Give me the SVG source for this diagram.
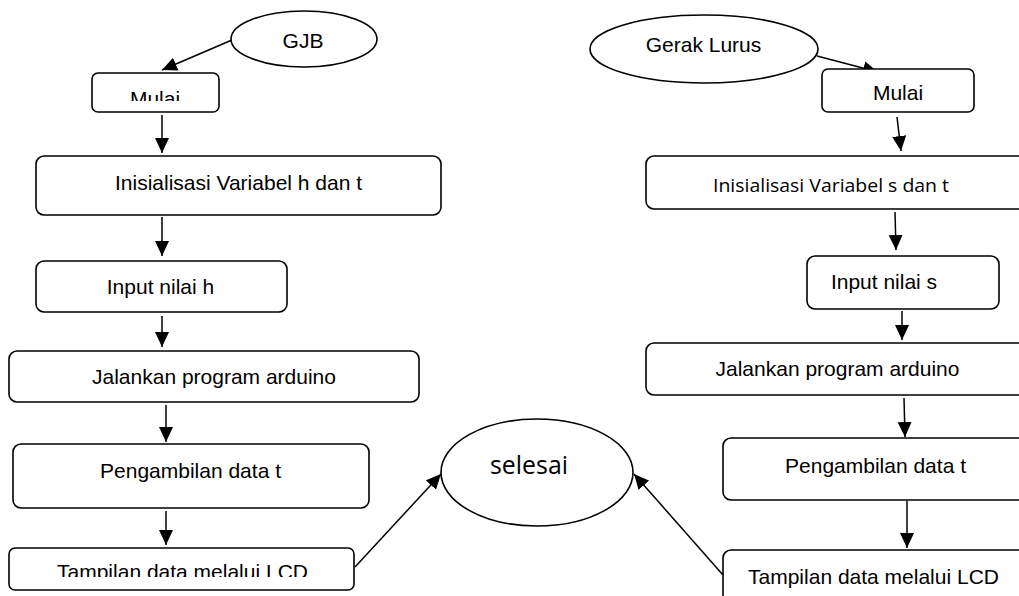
<svg xmlns="http://www.w3.org/2000/svg" width="1019" height="596" viewBox="0 0 1019 596">
<style>
.box{fill:#fff;stroke:#000;stroke-width:1.6}
.ell{fill:#fff;stroke:#000;stroke-width:1.6}
.t{font-family:"Liberation Sans",Arial,sans-serif;font-size:21px;fill:#000;text-anchor:middle}
.c{font-family:"Open Sans","Noto Sans",sans-serif;fill:#000;text-anchor:middle}
.ln{stroke:#000;stroke-width:1.5;fill:none;marker-end:url(#ah)}
</style>
<defs>
<marker id="ah" markerUnits="userSpaceOnUse" markerWidth="16" markerHeight="15" refX="15" refY="7" orient="auto">
<path d="M0,0 L15,7 L0,14 z" fill="#000"/>
</marker>
<clipPath id="clipMulaiL"><rect x="92" y="73" width="127" height="28"/></clipPath>
<clipPath id="clipTampilL"><rect x="9" y="548" width="345" height="29"/></clipPath>
</defs>
<rect width="1019" height="596" fill="#fff"/>
<g id="connectors">
<line class="ln" x1="232" y1="40" x2="162" y2="70"/>
<line class="ln" x1="162" y1="115" x2="162" y2="153"/>
<line class="ln" x1="162" y1="217" x2="162" y2="256"/>
<line class="ln" x1="162" y1="316" x2="162" y2="347"/>
<line class="ln" x1="166" y1="405" x2="166" y2="442"/>
<line class="ln" x1="166" y1="511" x2="166" y2="545"/>
<line class="ln" x1="355" y1="567" x2="441" y2="474"/>
<line class="ln" x1="817" y1="56" x2="878" y2="72"/>
<line class="ln" x1="897" y1="117" x2="901" y2="151"/>
<line class="ln" x1="895" y1="212" x2="896" y2="250"/>
<line class="ln" x1="902" y1="311" x2="902" y2="340"/>
<line class="ln" x1="904" y1="398" x2="905" y2="437"/>
<line class="ln" x1="907" y1="501" x2="907" y2="548"/>
<line class="ln" x1="723" y1="575" x2="634" y2="474"/>
</g>
<g id="gjb"><ellipse class="ell" cx="304" cy="39" rx="73" ry="28"/><text class="t" x="303" y="48">GJB</text></g>
<g id="mulai-l"><rect class="box" x="92" y="73" width="127" height="39" rx="6"/><text class="t" x="155" y="106" clip-path="url(#clipMulaiL)">Mulai</text></g>
<g id="init-l"><rect class="box" x="36" y="156" width="405" height="59" rx="8"/><text class="t" x="238.5" y="190">Inisialisasi Variabel h dan t</text></g>
<g id="input-l"><rect class="box" x="36" y="261" width="251" height="51" rx="8"/><text class="t" x="160.5" y="294">Input nilai h</text></g>
<g id="jalan-l"><rect class="box" x="9" y="351" width="410" height="51" rx="8"/><text class="t" x="214" y="384">Jalankan program arduino</text></g>
<g id="ambil-l"><rect class="box" x="13" y="444" width="356" height="64" rx="8"/><text class="t" x="190.5" y="478">Pengambilan data t</text></g>
<g id="tampil-l"><rect class="box" x="9" y="548" width="345" height="42" rx="6"/><text class="t" x="182.5" y="579" clip-path="url(#clipTampilL)">Tampilan data melalui LCD</text></g>
<g id="selesai"><ellipse class="ell" cx="537" cy="472.5" rx="96" ry="53.5"/><text class="c" x="529" y="474" font-size="25" textLength="78" lengthAdjust="spacingAndGlyphs">selesai</text></g>
<g id="gerak"><ellipse class="ell" cx="704" cy="49" rx="114" ry="34"/><text class="t" x="703.5" y="52">Gerak Lurus</text></g>
<g id="mulai-r"><rect class="box" x="822" y="69" width="152" height="43" rx="6"/><text class="t" x="898" y="100">Mulai</text></g>
<g id="init-r"><rect class="box" x="646" y="156" width="390" height="53" rx="8"/><text class="c" x="831" y="192" font-size="18" textLength="236" lengthAdjust="spacingAndGlyphs">Inisialisasi Variabel s dan t</text></g>
<g id="input-r"><rect class="box" x="807" y="256" width="192" height="53" rx="8"/><text class="t" x="884" y="289">Input nilai s</text></g>
<g id="jalan-r"><rect class="box" x="646" y="343" width="390" height="52" rx="8"/><text class="t" x="837.5" y="376">Jalankan program arduino</text></g>
<g id="ambil-r"><rect class="box" x="723" y="438" width="313" height="62" rx="8"/><text class="t" x="875.5" y="473">Pengambilan data t</text></g>
<g id="tampil-r"><rect class="box" x="723" y="550" width="313" height="60" rx="8"/><text class="t" x="873.5" y="584">Tampilan data melalui LCD</text></g>
</svg>
